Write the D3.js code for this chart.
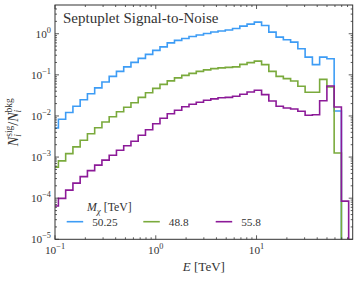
<!DOCTYPE html>
<html>
<head>
<meta charset="utf-8">
<script src="https://cdn.jsdelivr.net/npm/d3@7"></script>
<style>
  body { margin: 0; background: #fff; }
  svg { display: block; }
</style>
</head>
<body>
<div id="chart"></div>
<script>
// log-spaced energy bin edges [TeV]
const binEdges = [0.09156, 0.1081, 0.1276, 0.1506, 0.1777, 0.2098, 0.2476, 0.2922, 0.3449, 0.4072,
  0.4806, 0.5672, 0.6695, 0.7902, 0.9328, 1.101, 1.300, 1.534, 1.811, 2.137,
  2.523, 2.978, 3.515, 4.149, 4.897, 5.780, 6.823, 8.054, 9.506, 11.22,
  13.24, 15.63, 18.45, 21.78, 25.70, 30.34, 35.83, 42.28, 49.91, 58.91,
  69.54, 82.07];

const masses = ["50.25", "48.8", "55.8"];

// N_sig / N_bkg per bin
const snM5025 = [0.00511, 0.00832, 0.0121, 0.0172, 0.0247, 0.0346, 0.0483, 0.0669, 0.0920, 0.1216,
  0.156, 0.201, 0.251, 0.315, 0.393, 0.478, 0.598, 0.688, 0.769, 0.860,
  0.935, 1.017, 1.106, 1.169, 1.236, 1.345, 1.529, 1.710, 1.912, 1.590,
  1.093, 0.827, 0.715, 0.625, 0.432, 0.270, 0.177, 0.270, 0.247, 0.0132];

const snM488 = [0.000569, 0.000809, 0.00121, 0.00177, 0.00257, 0.00370, 0.00517, 0.00715, 0.00957, 0.01265,
  0.01626, 0.0209, 0.0284, 0.0366, 0.0470, 0.0588, 0.0715, 0.0846, 0.0973, 0.1087,
  0.1216, 0.1323, 0.1414, 0.148, 0.152, 0.156, 0.180, 0.198, 0.216, 0.177,
  0.1216, 0.092, 0.0809, 0.0707, 0.0526, 0.0376, 0.0376, 0.0778, 0.0506, 0.00126];

const snM558 = [0.0000643, 0.0000989, 0.000157, 0.000233, 0.000334, 0.000468, 0.000636, 0.000841, 0.00111, 0.00147,
  0.00189, 0.00243, 0.00340, 0.00462, 0.00647, 0.00879, 0.0113, 0.01375, 0.01672, 0.01923,
  0.02152, 0.02405, 0.0261, 0.0277, 0.0284, 0.0301, 0.0336, 0.0383, 0.0421, 0.0331,
  0.0231, 0.0172, 0.0156, 0.0148, 0.0130, 0.0104, 0.0107, 0.0234, 0.0535, 0.0165,
  0.000085];

const xMajor = [0.1, 1, 10];
const xMajorExp = ["\u22121", "0", "1"];
const yMajor = [1e-5, 1e-4, 1e-3, 1e-2, 1e-1, 1];
const yMajorExp = ["\u22125", "\u22124", "\u22123", "\u22122", "\u22121", "0"];

const series = [
  { label: masses[0], values: snM5025, color: "#3d9cf5" },
  { label: masses[1], values: snM488, color: "#7aaa3c" },
  { label: masses[2], values: snM558, color: "#8c1a98" }
];

const width = 357, height = 281;
const margin = { top: 5, right: 4.3, bottom: 41.7, left: 55 };
const serif = "'Liberation Serif', 'Times New Roman', serif";
const ink = "#333";

const x = d3.scaleLog().domain([0.1, 90])
  .range([margin.left, width - margin.right]);
const y = d3.scaleLog().domain([1e-5, 5])
  .range([height - margin.bottom, margin.top]);

const svg = d3.select("#chart").append("svg")
  .attr("width", width).attr("height", height)
  .style("font-family", serif);

svg.append("clipPath").attr("id", "plot")
  .append("rect")
  .attr("x", x.range()[0]).attr("y", y.range()[1])
  .attr("width", x.range()[1] - x.range()[0])
  .attr("height", y.range()[0] - y.range()[1]);

// step histograms
const line = d3.line()
  .x(d => x(d[0]))
  .y(d => y(d[1]))
  .curve(d3.curveStepAfter);

series.forEach(s => {
  const n = s.values.length;
  const pts = [[binEdges[0], 1e-9]];
  s.values.forEach((v, i) => pts.push([binEdges[i], v]));
  pts.push([binEdges[n], s.values[n - 1]]);
  pts.push([binEdges[n], 1e-9]);
  svg.append("path")
    .attr("clip-path", "url(#plot)")
    .attr("d", line(pts))
    .attr("fill", "none")
    .attr("stroke", s.color)
    .attr("stroke-width", 1.6)
    .attr("stroke-linejoin", "miter");
});

// frame
const [x0, x1] = x.range();
const [y0, y1] = y.range();
svg.append("rect")
  .attr("x", x0).attr("y", y1)
  .attr("width", x1 - x0).attr("height", y0 - y1)
  .attr("fill", "none").attr("stroke", ink).attr("stroke-width", 1);

// ticks on all four sides, pointing in
const minor = (decades, lo, hi) => {
  const out = [];
  decades.forEach(d => { for (let m = 2; m <= 9; m++) { const v = d * m; if (v > lo && v < hi) out.push(v); } });
  return out;
};
const xMinor = minor([0.1, 1, 10], 0.1, 90);
const yMinor = minor([1e-5, 1e-4, 1e-3, 1e-2, 1e-1, 1], 1e-5, 5);
const ticks = svg.append("g").attr("stroke", ink).attr("stroke-width", 0.8);

[[xMajor, 4], [xMinor, 2]].forEach(([vals, len]) => {
  vals.forEach(v => {
    const px = x(v);
    ticks.append("line").attr("x1", px).attr("x2", px).attr("y1", y0).attr("y2", y0 - len);
    ticks.append("line").attr("x1", px).attr("x2", px).attr("y1", y1).attr("y2", y1 + len);
  });
});
[[yMajor, 4], [yMinor, 2]].forEach(([vals, len]) => {
  vals.forEach(v => {
    const py = y(v);
    ticks.append("line").attr("y1", py).attr("y2", py).attr("x1", x0).attr("x2", x0 + len);
    ticks.append("line").attr("y1", py).attr("y2", py).attr("x1", x1).attr("x2", x1 - len);
  });
});

// tick labels
xMajor.forEach((v, i) => {
  const t = svg.append("text")
    .attr("x", x(v)).attr("y", y0 + 15)
    .attr("text-anchor", "middle")
    .attr("fill", ink).attr("font-size", 11.3);
  t.append("tspan").text("10");
  t.append("tspan").attr("font-size", 8.3).attr("dy", -5).text(xMajorExp[i]);
});
yMajor.forEach((v, i) => {
  const t = svg.append("text")
    .attr("x", x0 - 4).attr("y", y(v) + 3.8)
    .attr("text-anchor", "end")
    .attr("fill", ink).attr("font-size", 11.3);
  t.append("tspan").text("10");
  t.append("tspan").attr("font-size", 8.3).attr("dy", -5).text(yMajorExp[i]);
});

// axis labels
const xl = svg.append("text")
  .attr("x", (x0 + x1) / 2).attr("y", 270.5)
  .attr("text-anchor", "middle")
  .attr("fill", ink).attr("font-size", 13);
xl.append("tspan").attr("font-style", "italic").text("E");
xl.append("tspan").text(" [TeV]");

const yl = svg.append("text")
  .attr("transform", `translate(18,${(y0 + y1) / 2}) rotate(-90)`)
  .attr("text-anchor", "middle")
  .attr("fill", ink).attr("font-size", 14);
yl.append("tspan").attr("font-style", "italic").text("N");
yl.append("tspan").attr("font-style", "italic").attr("font-size", 9.5).attr("dy", 3.2).text("i");
yl.append("tspan").attr("font-size", 9.5).attr("dx", -2.6).attr("dy", -9).text("sig");
yl.append("tspan").attr("dy", 5.8).text("/");
yl.append("tspan").attr("font-style", "italic").text("N");
yl.append("tspan").attr("font-style", "italic").attr("font-size", 9.5).attr("dy", 3.2).text("i");
yl.append("tspan").attr("font-size", 9.5).attr("dx", -2.6).attr("dy", -9).text("bkg");

// title
svg.append("text")
  .attr("x", 63).attr("y", 22.7)
  .attr("fill", ink).attr("font-size", 15)
  .text("Septuplet Signal-to-Noise");

// legend
const lt = svg.append("text")
  .attr("x", 87).attr("y", 210.5)
  .attr("fill", ink).attr("font-size", 11.8);
lt.append("tspan").attr("font-style", "italic").text("M");
lt.append("tspan").attr("font-style", "italic").attr("font-size", 9).attr("dy", 3).text("\u03c7");
lt.append("tspan").attr("dy", -3).text(" [TeV]");

const legendX = [66.7, 143.3, 215.7];
series.forEach((s, i) => {
  svg.append("line")
    .attr("x1", legendX[i]).attr("x2", legendX[i] + 16.5)
    .attr("y1", 221.7).attr("y2", 221.7)
    .attr("stroke", s.color).attr("stroke-width", 1.6);
  svg.append("text")
    .attr("x", legendX[i] + 25.5).attr("y", 226)
    .attr("fill", ink).attr("font-size", 11.3)
    .text(s.label);
});
</script>
</body>
</html>
